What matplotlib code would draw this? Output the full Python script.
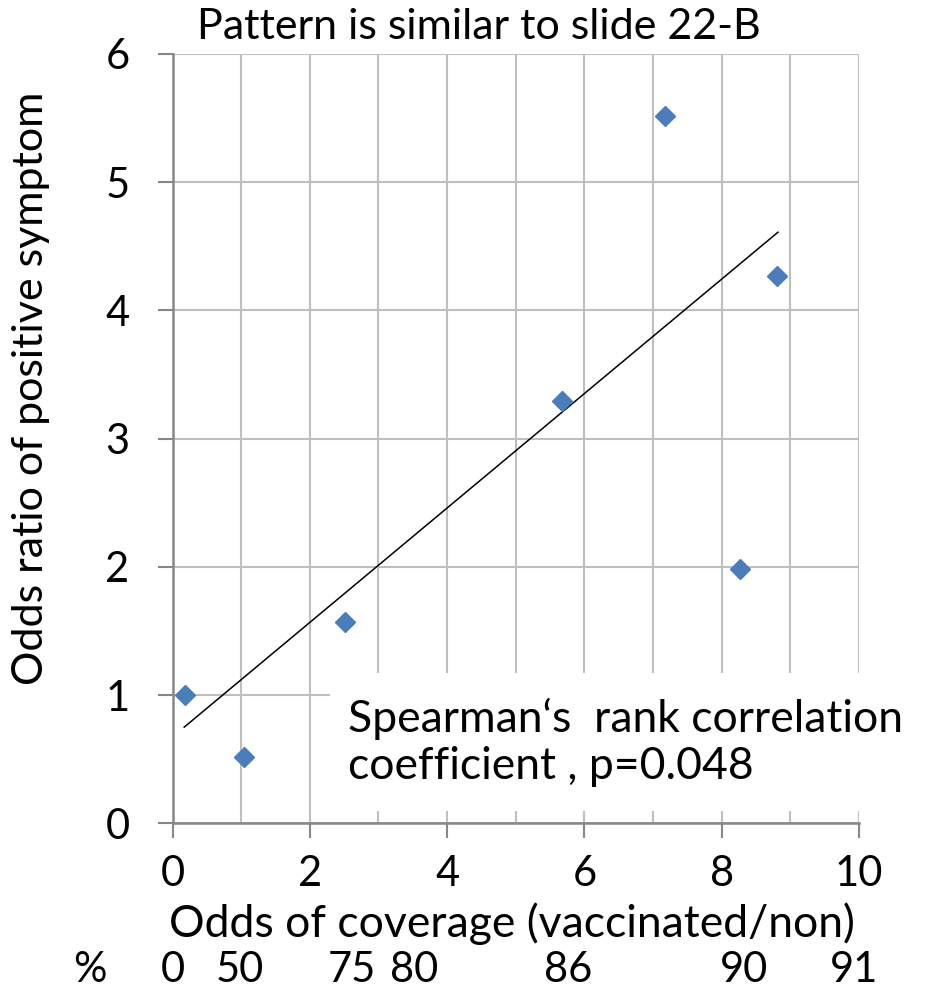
import numpy as np
import matplotlib
matplotlib.use("Agg")
import matplotlib.pyplot as plt
from matplotlib.patches import Rectangle
from matplotlib.transforms import blended_transform_factory

plt.rcParams['font.family'] = ['Lato', 'DejaVu Sans']

# odds of coverage vs odds ratio of positive symptom
odds_cov = [0.18, 1.04, 2.51, 5.67, 7.18, 8.26, 8.80]
odds_ratio = [1.00, 0.52, 1.57, 3.29, 5.52, 1.98, 4.27]

# trend line end points as drawn
trend_x = [0.17, 8.82]
trend_y = [0.75, 4.61]

# coverage percent labels under the x axis (placed at odds positions)
pct_labels = ['0', '50', '75', '80', '86', '90', '91']
pct_pos = [0.0, 0.98, 2.62, 3.52, 5.76, 8.33, 9.93]

fig = plt.figure(figsize=(9.26, 9.94), dpi=100)
ax = fig.add_axes([0.1863, 0.1717, 0.7413, 0.774])

grid_c = '#bfbfbf'
axis_c = '#878787'

ax.set_xlim(0, 10)
ax.set_ylim(0, 6)
ax.set_xticks(np.arange(0, 11, 2))
ax.set_xticks(np.arange(1, 10, 2), minor=True)
ax.set_yticks(np.arange(0, 7, 1))
ax.set_axisbelow(True)
ax.grid(True, which='both', color=grid_c, linewidth=1.5)

for s in ['top', 'right']:
    ax.spines[s].set_visible(False)
for s in ['left', 'bottom']:
    ax.spines[s].set_color(axis_c)
    ax.spines[s].set_linewidth(1.8)

ax.tick_params(axis='both', which='major', length=11, width=1.5, color=axis_c,
               labelsize=30, direction='out')
ax.tick_params(axis='y', pad=20)
ax.tick_params(axis='x', pad=12)
ax.tick_params(axis='x', which='minor', length=0)

# white box behind the annotation, hides the grid
box = Rectangle((2.29, 0.096), 9.0, 1.075, facecolor='white', edgecolor='none',
                zorder=1.5, clip_on=False)
ax.add_patch(box)

ax.plot(trend_x, trend_y, color='black', linewidth=1.1, zorder=2)
ax.plot(odds_cov, odds_ratio, linestyle='none', marker='D', markersize=10,
        color='#4a7ebb', zorder=3, clip_on=False)

ax.text(2.56, 0.63, 'Spearman\u2018s  rank correlation\ncoefficient , p=0.048',
        fontsize=32, ha='left', va='center', linespacing=1.2, zorder=4)

ax.set_ylabel('Odds ratio of positive symptom', fontsize=31)
ax.yaxis.set_label_coords(-0.178, 0.566)
fig.text(479 / 926, 1 - 27 / 994, 'Pattern is similar to slide 22-B',
         fontsize=31, ha='center', va='center')
fig.text(512 / 926, 1 - 924 / 994, 'Odds of coverage (vaccinated/non)',
         fontsize=32, ha='center', va='center')

tr = blended_transform_factory(ax.transData, fig.transFigure)
ax.text(-1.2, 1 - 970 / 994, '%', transform=tr, fontsize=30, ha='center', va='center')
for lab, p in zip(pct_labels, pct_pos):
    ax.text(p, 1 - 970 / 994, lab, transform=tr, fontsize=30, ha='center', va='center')

fig.savefig('out.png', dpi=100)
